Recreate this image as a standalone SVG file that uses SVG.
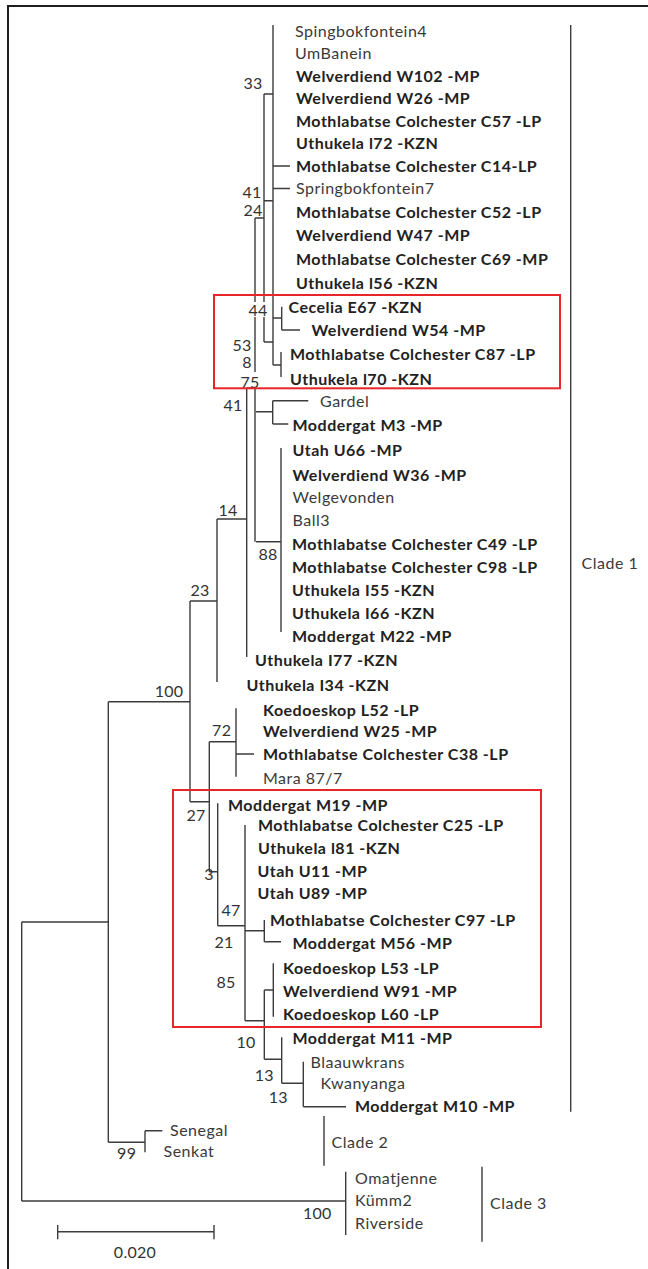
<svg xmlns="http://www.w3.org/2000/svg" width="648" height="1269" viewBox="0 0 648 1269">
<style>
text{font-family:Lato,"Open Sans","Liberation Sans",sans-serif;font-size:16px;letter-spacing:0.5px;fill:#3a3a3a}
.b{font-weight:bold;fill:#222}
.bs{text-anchor:middle;fill:#333;letter-spacing:0.3px}
.ln{stroke:#3c3c3c;stroke-width:1.4;fill:none}
.box{stroke:#e8262a;stroke-width:2;fill:none}
</style>
<rect width="648" height="1269" fill="#fff"/>
<path d="M8 1269V6H648" stroke="#1e1e1e" stroke-width="2" fill="none"/>
<g id="connectors" class="ln">
<path d="M273 25V365M264 94H273M273 166H290M273 188.5H290M264 200.7H273M264 94V342M255 218H264M264 342H273"/>
<path d="M281.7 306.7V330M273 318H281.7M281.7 330H300M281 352V377M273 365H281"/>
<path d="M255 218V541.7M256 411.7H272.7M272.7 400.7V424M272.7 400.7H308.3M272.7 424H288.3"/>
<path d="M256 541.7H281M281 448V632M246.7 388V657M246.7 388H256"/>
<path d="M217 519H246.7M217 519V682M190 601H217M190 601V801.7M108.3 701.7H190M108.3 701.7V1142.3"/>
<path d="M190 801.7H209.3M209.3 741.7V871.7M209.3 741.7H236M236 708.3V776.7M236 754H254"/>
<path d="M209.3 871.7H217.7M217.7 803.3V925.7M217.7 925.7H245M245 825V1020.7"/>
<path d="M245 930.7H264.3M264.3 920V941.7M264.3 941.7H281M245 1020.7H264.3M264.3 990V1059.3"/>
<path d="M264.3 990H273.3M273.3 963.3V1016.7M264.3 1059.3H281.7M281.7 1037.3V1083.3"/>
<path d="M281.7 1083.3H303.3M303.3 1061.7V1106.7M303.3 1106.7H346"/>
<path d="M108.3 1142.3H145M145 1130.7V1152.3M145 1130.7H162.3"/>
<path d="M21.7 922H108.3M21.7 922V1201M21.7 1201H345.7M345.7 1171.7V1235"/>
<path d="M570.7 25V1111.7M324 1116V1165.7M482 1166.7V1241.7"/>
<path d="M57.7 1231.7H214M57.7 1225V1239.3M214 1225V1239.3"/>
</g>
<g id="label-bg" fill="#fff">
<rect x="249" y="302" width="18" height="15"/>
<rect x="241" y="372" width="18" height="15"/>
</g>
<g id="taxa">
<g id="t1"><text x="295" y="37">Spingbokfontein4</text></g>
<g id="t2"><text x="295" y="58.5">UmBanein</text></g>
<g id="t3"><text class="b" x="296" y="81.5">Welverdiend W102 -MP</text></g>
<g id="t4"><text class="b" x="296" y="104">Welverdiend W26 -MP</text></g>
<g id="t5"><text class="b" x="296" y="126.5">Mothlabatse Colchester C57 -LP</text></g>
<g id="t6"><text class="b" x="296" y="149">Uthukela l72 -KZN</text></g>
<g id="t7"><text class="b" x="296" y="171.5">Mothlabatse Colchester C14-LP</text></g>
<g id="t8"><text x="296" y="194">Springbokfontein7</text></g>
<g id="t9"><text class="b" x="296" y="217.5">Mothlabatse Colchester C52 -LP</text></g>
<g id="t10"><text class="b" x="296" y="241">Welverdiend W47 -MP</text></g>
<g id="t11"><text class="b" x="296" y="264.5">Mothlabatse Colchester C69 -MP</text></g>
<g id="t12"><text class="b" x="296" y="288.5">Uthukela l56 -KZN</text></g>
<g id="t13"><text class="b" x="288.5" y="312.5">Cecelia E67 -KZN</text></g>
<g id="t14"><text class="b" x="311.5" y="335.5">Welverdiend W54 -MP</text></g>
<g id="t15"><text class="b" x="290" y="360">Mothlabatse Colchester C87 -LP</text></g>
<g id="t16"><text class="b" x="290" y="384.5">Uthukela l70 -KZN</text></g>
<g id="t17"><text x="320" y="407">Gardel</text></g>
<g id="t18"><text class="b" x="292.5" y="430.5">Moddergat M3 -MP</text></g>
<g id="t19"><text class="b" x="292.5" y="456">Utah U66 -MP</text></g>
<g id="t20"><text class="b" x="292.5" y="480.5">Welverdiend W36 -MP</text></g>
<g id="t21"><text x="292.5" y="503">Welgevonden</text></g>
<g id="t22"><text x="292.5" y="526">Ball3</text></g>
<g id="t23"><text class="b" x="292" y="549.5">Mothlabatse Colchester C49 -LP</text></g>
<g id="t24"><text class="b" x="292" y="572.5">Mothlabatse Colchester C98 -LP</text></g>
<g id="t25"><text class="b" x="292" y="596">Uthukela I55 -KZN</text></g>
<g id="t26"><text class="b" x="292" y="618.5">Uthukela I66 -KZN</text></g>
<g id="t27"><text class="b" x="292" y="641.5">Moddergat M22 -MP</text></g>
<g id="t28"><text class="b" x="255" y="665.5">Uthukela I77 -KZN</text></g>
<g id="t29"><text class="b" x="246.5" y="690.5">Uthukela I34 -KZN</text></g>
<g id="t30"><text class="b" x="263" y="715.5">Koedoeskop L52 -LP</text></g>
<g id="t31"><text class="b" x="263" y="737">Welverdiend W25 -MP</text></g>
<g id="t32"><text class="b" x="263" y="760">Mothlabatse Colchester C38 -LP</text></g>
<g id="t33"><text x="263" y="784">Mara 87/7</text></g>
<g id="t34"><text class="b" x="228" y="810.5">Moddergat M19 -MP</text></g>
<g id="t35"><text class="b" x="258" y="831">Mothlabatse Colchester C25 -LP</text></g>
<g id="t36"><text class="b" x="258" y="854">Uthukela l81 -KZN</text></g>
<g id="t37"><text class="b" x="257.5" y="877">Utah U11 -MP</text></g>
<g id="t38"><text class="b" x="257.5" y="899">Utah U89 -MP</text></g>
<g id="t39"><text class="b" x="270" y="926">Mothlabatse Colchester C97 -LP</text></g>
<g id="t40"><text class="b" x="292.5" y="948.5">Moddergat M56 -MP</text></g>
<g id="t41"><text class="b" x="283" y="974">Koedoeskop L53 -LP</text></g>
<g id="t42"><text class="b" x="283" y="997">Welverdiend W91 -MP</text></g>
<g id="t43"><text class="b" x="283" y="1019.5">Koedoeskop L60 -LP</text></g>
<g id="t44"><text class="b" x="292.5" y="1043.5">Moddergat M11 -MP</text></g>
<g id="t45"><text x="310.5" y="1068">Blaauwkrans</text></g>
<g id="t46"><text x="320.5" y="1089">Kwanyanga</text></g>
<g id="t47"><text class="b" x="355" y="1111.5">Moddergat M10 -MP</text></g>
<g id="t48"><text x="170" y="1135.5">Senegal</text></g>
<g id="t49"><text x="163.5" y="1157">Senkat</text></g>
<g id="t50"><text x="355" y="1183.5">Omatjenne</text></g>
<g id="t51"><text x="355" y="1205.5">Kümm2</text></g>
<g id="t52"><text x="355" y="1228.5">Riverside</text></g>
</g>
<g id="clades">
<text x="581.5" y="569">Clade 1</text>
<text x="331.5" y="1147.5">Clade 2</text>
<text x="490" y="1208.5">Clade 3</text>
</g>
<g id="bootstrap">
<text class="bs" x="253" y="88.5">33</text>
<text class="bs" x="252" y="197.5">41</text>
<text class="bs" x="253" y="215.5">24</text>
<text class="bs" x="258" y="315.5">44</text>
<text class="bs" x="242" y="350.5">53</text>
<text class="bs" x="247" y="367.5">8</text>
<text class="bs" x="250" y="387.5">75</text>
<text class="bs" x="233" y="410.5">41</text>
<text class="bs" x="228" y="515.5">14</text>
<text class="bs" x="268" y="559.5">88</text>
<text class="bs" x="200" y="595.5">23</text>
<text class="bs" x="169" y="696.5">100</text>
<text class="bs" x="221.7" y="735.5">72</text>
<text class="bs" x="196" y="820.5">27</text>
<text class="bs" x="209" y="879.5">3</text>
<text class="bs" x="231" y="915.5">47</text>
<text class="bs" x="224" y="947.5">21</text>
<text class="bs" x="226" y="987.5">85</text>
<text class="bs" x="246" y="1047.5">10</text>
<text class="bs" x="264.3" y="1080.5">13</text>
<text class="bs" x="278.3" y="1102.5">13</text>
<text class="bs" x="126.7" y="1158.5">99</text>
<text class="bs" x="317.3" y="1218.5">100</text>
</g>
<g id="highlights">
<rect class="box" x="214" y="295" width="346" height="93.3"/>
<rect class="box" x="173" y="790" width="368" height="237"/>
</g>
<g id="scale">
<text class="bs" x="135" y="1257.5">0.020</text>
</g>
</svg>
